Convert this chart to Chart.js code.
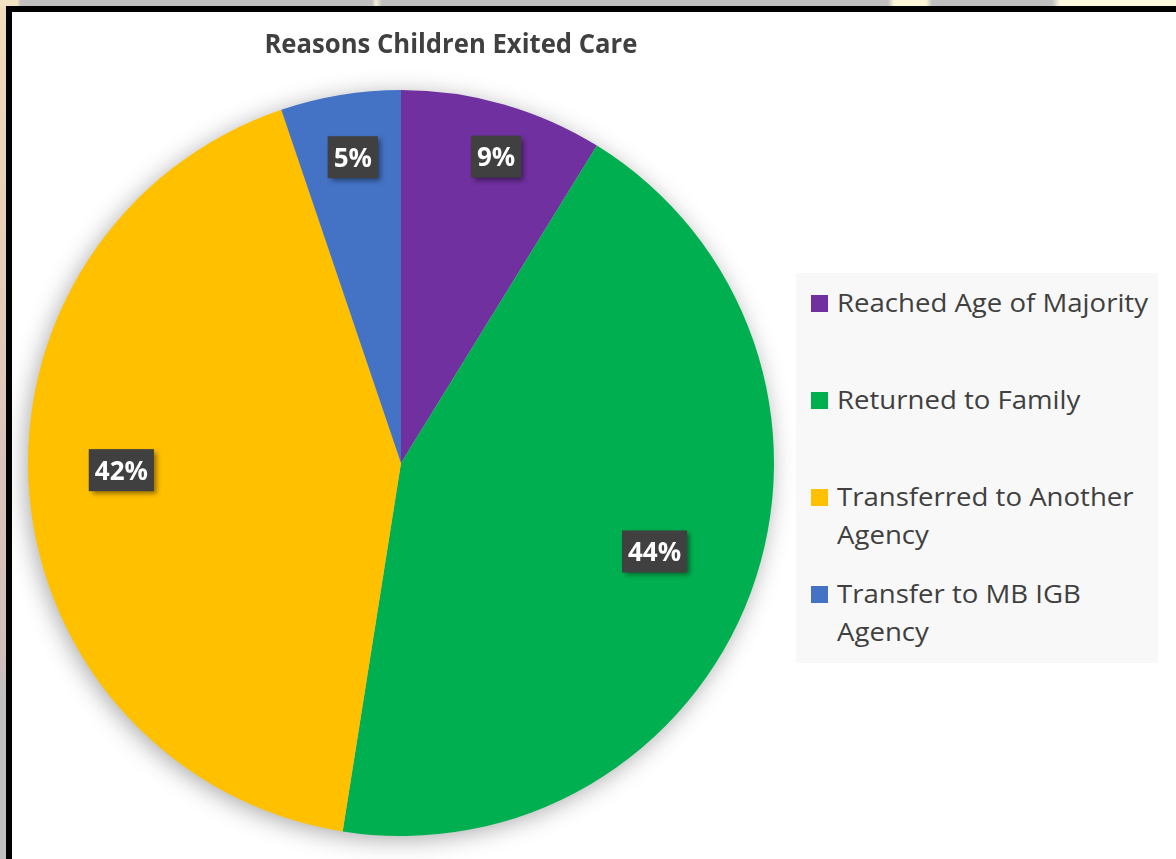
<!DOCTYPE html>
<html>
<head>
<meta charset="utf-8">
<script src="https://cdn.jsdelivr.net/npm/chart.js@4.4.1/dist/chart.umd.min.js"></script>
<style>
    html, body { margin: 0; padding: 0; }
    body {
        width: 1176px; height: 859px; overflow: hidden; position: relative;
        background: #c0c0c0;
        font-family: "Open Sans", sans-serif;
    }
    .strip-top {
        position: absolute; left: 0; top: 0; width: 1176px; height: 7px;
        background: linear-gradient(to right, #f3e2c4 0, #f3e2c4 18px, #c0c0c0 20px, #c0c0c0 372px,
            #f6efd5 376px, #c0c0c0 382px, #c0c0c0 888px, #fbf6d8 894px, #fbf6d8 926px, #c0c0c0 932px,
            #c0c0c0 1052px, #fbf8de 1060px, #fbf8de 1176px);
    }
    .strip-left {
        position: absolute; left: 0; top: 7px; width: 7px; height: 852px;
        background: linear-gradient(to bottom, #f1dcbd 0, #ead0ba 200px, #dcc6bc 450px, #d2bebc 650px, #c0c0c0 690px);
    }
    .frame {
        position: absolute; left: 6px; top: 6px; width: 1200px; height: 900px;
        border-left: 6px solid #000; border-top: 6px solid #000;
        background: #fff;
    }
    #chart { position: absolute; left: 0; top: 0; }
    .title {
        position: absolute; left: 0; top: 28px; width: 902px; text-align: center;
        font-size: 26px; line-height: 30px; font-weight: bold; color: #404040;
    }
    .title span { display: inline-block; transform-origin: center; white-space: nowrap; }
    .legend {
        position: absolute; left: 796px; top: 273px; width: 362px; height: 390px;
        background: #f8f8f8; box-sizing: border-box; padding-top: 10px;
    }
    .legend-item { position: relative; height: 97px; }
    .legend-item .mark { position: absolute; left: 15px; top: 12px; width: 17px; height: 17px; }
    .legend-item .txt {
        position: absolute; left: 41px; top: 0; font-size: 26px; line-height: 38px;
        color: #404040; white-space: nowrap; transform-origin: left top;
    }
</style>
</head>
<body>
<div class="strip-top"></div>
<div class="strip-left"></div>
<div class="frame"></div>
<canvas id="chart" width="1176" height="859"></canvas>
<div class="title"><span id="titleText">Reasons Children Exited Care</span></div>
<div class="legend" id="legend"></div>
<script>
const categories = [
    'Reached Age of Majority',
    'Returned to Family',
    ['Transferred to Another', 'Agency'],
    ['Transfer to MB IGB', 'Agency']
];
const shares = [8.8, 43.7, 42.3, 5.2];
const sliceColors = ['#7030A0', '#00B050', '#FFC000', '#4472C4'];

// where each data label sits: fraction of radius, and a small turn (degrees) off the slice middle
const labelRadius = [0.86, 0.72, 0.75, 0.83];
const labelTurn = [1.4, -1.1, 3.4, 0.4];

const pieShadow = {
    id: 'pieShadow',
    beforeDatasetsDraw(chart) {
        const arc = chart.getDatasetMeta(0).data[0];
        if (!arc) return;
        const ctx = chart.ctx;
        ctx.save();
        ctx.shadowColor = 'rgba(0,0,0,0.35)';
        ctx.shadowBlur = 24;
        ctx.shadowOffsetX = -3;
        ctx.shadowOffsetY = 4;
        ctx.fillStyle = '#c8c8c8';
        ctx.beginPath();
        ctx.arc(arc.x, arc.y, arc.outerRadius - 1, 0, Math.PI * 2);
        ctx.fill();
        ctx.restore();
    }
};

const labelBoxes = {
    id: 'labelBoxes',
    afterDatasetsDraw(chart) {
        const ctx = chart.ctx;
        const meta = chart.getDatasetMeta(0);
        const total = shares.reduce((a, b) => a + b, 0);
        ctx.save();
        ctx.font = 'bold 26px "Open Sans"';
        meta.data.forEach((arc, i) => {
            const mid = (arc.startAngle + arc.endAngle) / 2 + labelTurn[i] * Math.PI / 180;
            const r = arc.outerRadius * labelRadius[i];
            const px = arc.x + Math.cos(mid) * r;
            const py = arc.y + Math.sin(mid) * r;
            const text = Math.round(shares[i] / total * 100) + '%';
            const tw = ctx.measureText(text).width;
            const w = tw + 12, h = 42;

            ctx.save();
            ctx.shadowColor = 'rgba(0,0,0,0.45)';
            ctx.shadowBlur = 5;
            ctx.shadowOffsetX = 3;
            ctx.shadowOffsetY = 3;
            ctx.fillStyle = '#404040';
            ctx.fillRect(px - w / 2, py - h / 2, w, h);
            ctx.restore();

            ctx.fillStyle = '#ffffff';
            ctx.textAlign = 'center';
            ctx.textBaseline = 'alphabetic';
            ctx.fillText(text, px, py + 9.5);
        });
        ctx.restore();
    }
};

const chart = new Chart(document.getElementById('chart'), {
    type: 'pie',
    data: {
        labels: categories,
        datasets: [{
            data: shares,
            backgroundColor: sliceColors,
            borderWidth: 0,
            hoverOffset: 0
        }]
    },
    options: {
        responsive: false,
        animation: false,
        events: [],
        layout: { padding: { left: 28, top: 90, right: 402, bottom: 23 } },
        plugins: {
            legend: { display: false },
            tooltip: { enabled: false },
            title: { display: false }
        }
    },
    plugins: [pieShadow, labelBoxes]
});

// HTML legend from the chart's own labels and colours
const legendEl = document.getElementById('legend');
chart.data.labels.forEach((lab, i) => {
    const item = document.createElement('div');
    item.className = 'legend-item';
    const mark = document.createElement('div');
    mark.className = 'mark';
    mark.style.background = chart.data.datasets[0].backgroundColor[i];
    const txt = document.createElement('div');
    txt.className = 'txt';
    txt.innerHTML = [].concat(lab).join('<br>');
    item.appendChild(mark);
    item.appendChild(txt);
    legendEl.appendChild(item);
});

// squeeze the wider fallback font to the reference text widths
const titleSpan = document.getElementById('titleText');
titleSpan.style.transform = `scaleX(${373 / titleSpan.getBoundingClientRect().width})`;
const firstTxt = legendEl.querySelector('.txt');
const legScale = 311 / firstTxt.getBoundingClientRect().width;
legendEl.querySelectorAll('.txt').forEach(t => t.style.transform = `scaleX(${legScale})`);
</script>
</body>
</html>
